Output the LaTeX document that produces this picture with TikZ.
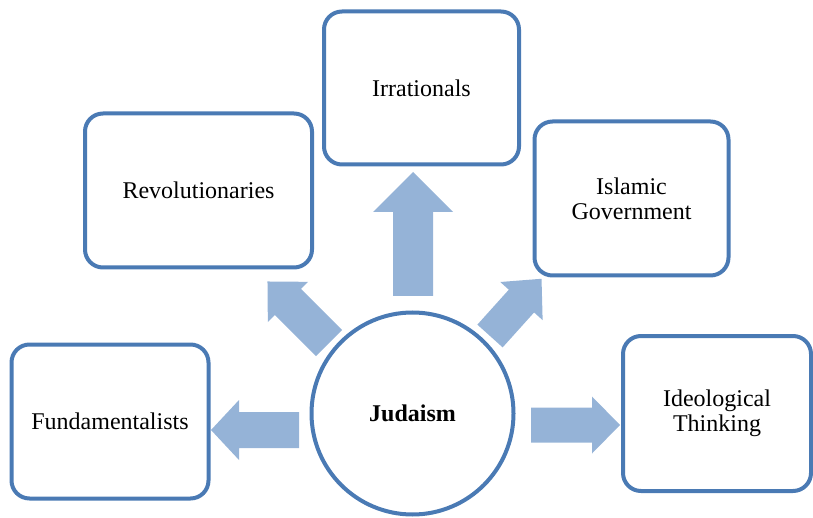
\documentclass[tikz,border=0pt]{standalone}
\usepackage{fontspec}
\setmainfont{Liberation Serif}
\definecolor{edgeblue}{RGB}{74,122,180}
\definecolor{arrowblue}{RGB}{149,179,215}
% #1 x, #2 y, #3 angle, #4 length, #5 shaft width, #6 head width, #7 head length
\newcommand\blockarrow[7]{%
  \begin{scope}[shift={(#1,#2)},rotate=#3]
    \fill[arrowblue] (0,-#5/2) -- (#4-#7,-#5/2) -- (#4-#7,-#6/2) -- (#4,0)
      -- (#4-#7,#6/2) -- (#4-#7,#5/2) -- (0,#5/2) -- cycle;
  \end{scope}}
\begin{document}
\begin{tikzpicture}[x=1pt,y=-1pt,
  box/.style={draw=edgeblue,line width=4pt,rounded corners=18pt,fill=white,
    align=center,font=\fontsize{24}{25}\selectfont,inner sep=0pt},
  hub/.style={circle,draw=edgeblue,line width=4pt,fill=white,
    minimum size=202pt,inner sep=0pt,font=\fontsize{24}{25}\selectfont\bfseries}]
\useasboundingbox (0,0) rectangle (813,518);
\blockarrow{299}{430}{180}{88}{36}{60}{28}
\blockarrow{531}{425}{0}{89}{35}{57}{28}
\blockarrow{413}{296}{90}{124}{40}{80}{40}
\blockarrow{329}{343}{135}{87}{37}{57}{29}
\blockarrow{490}{336}{48}{77}{34}{57}{30}
\node[hub] (jud) at (412.5,413.5) {Judaism};
\node[box,minimum width=195pt,minimum height=153pt] (irr) at (421.5,88) {Irrationals};
\node[box,minimum width=227pt,minimum height=154pt] (rev) at (198.5,190.5) {Revolutionaries};
\node[box,minimum width=194pt,minimum height=154pt] (isl) at (631.5,198.5) {Islamic\\Government};
\node[box,minimum width=197pt,minimum height=154pt] (fun) at (110,421.5) {Fundamentalists};
\node[box,minimum width=188pt,minimum height=155pt] (ide) at (717,413.5) {Ideological\\Thinking};
\end{tikzpicture}
\end{document}
